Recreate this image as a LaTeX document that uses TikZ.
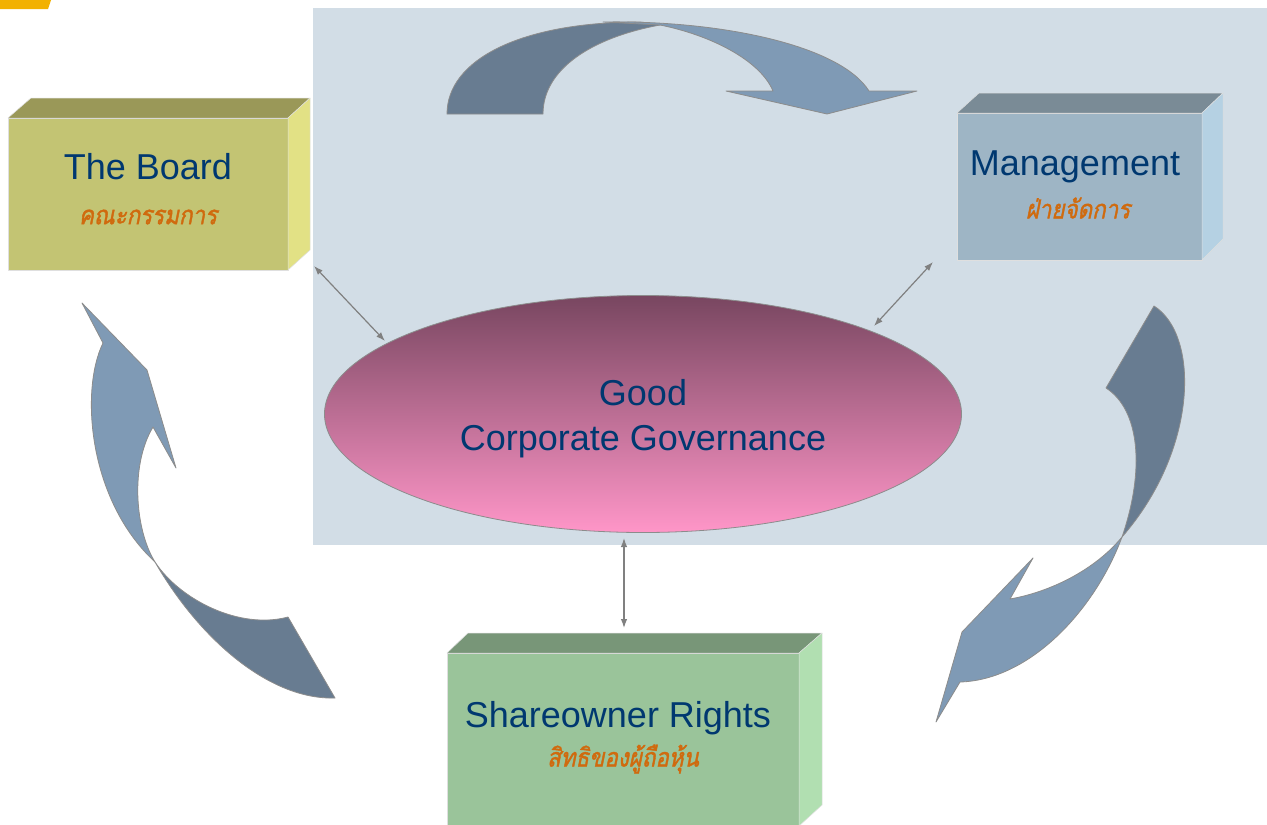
\documentclass[tikz,border=0pt]{standalone}
\usepackage{fontspec}
\setmainfont{Liberation Sans}
\newfontfamily\thaifont[Script=Thai,FakeSlant=0.2,FakeBold=1.5,FakeStretch=0.86]{Loma}
\usetikzlibrary{shapes.geometric,arrows.meta}
\definecolor{panelc}{RGB}{210,221,230}
\definecolor{tabc}{RGB}{242,177,0}
\definecolor{darkarr}{RGB}{104,124,145}
\definecolor{lightarr}{RGB}{127,154,181}
\definecolor{arredge}{RGB}{140,140,140}
\definecolor{entext}{RGB}{0,56,112}
\definecolor{thtext}{RGB}{208,106,14}
\definecolor{bfront}{RGB}{195,196,115}
\definecolor{btop}{RGB}{154,152,88}
\definecolor{bright}{RGB}{226,225,133}
\definecolor{mfront}{RGB}{158,181,197}
\definecolor{mtop}{RGB}{122,139,150}
\definecolor{mright}{RGB}{181,209,227}
\definecolor{sfront}{RGB}{154,196,154}
\definecolor{stop}{RGB}{120,150,120}
\definecolor{sright}{RGB}{177,223,177}
\definecolor{ellT}{RGB}{120,70,96}
\definecolor{ellB}{RGB}{255,150,200}
\definecolor{dblc}{RGB}{128,128,128}
\tikzset{
  en/.style={text=entext,font=\fontsize{36}{42}\selectfont,inner sep=0pt},
  th/.style={text=thtext,font=\thaifont\fontsize{26}{30}\selectfont,inner sep=0pt},
  face/.style={draw=white!75!gray,line width=0.5pt,line join=round},
  blockarrow/.style={draw=arredge,line width=0.8pt,line join=round},
  dbl/.style={draw=dblc,line width=1.2pt,{Latex[length=9pt,width=6.5pt]}-{Latex[length=9pt,width=6.5pt]}}
}
\begin{document}
\begin{tikzpicture}[x=1pt,y=-1pt]
\useasboundingbox (0,0) rectangle (1267,825);
\clip (0,0) rectangle (1267,825);
\fill[white] (0,0) rectangle (1267,825);
% orange tab
\fill[tabc] (0,0) -- (51,0) -- (48,9) -- (0,9) -- cycle;
% panel
\fill[panelc] (313,8) rectangle (1267,545);

% top curved arrow
\path[blockarrow,fill=darkarr] (447,114) .. controls (447,60) and (520,22) .. (640,22)
  -- (660,25) .. controls (590,38) and (543,70) .. (543,114) -- cycle;
\path[blockarrow,fill=lightarr] (603,22) .. controls (720,20) and (840,45) .. (869,91)
  -- (917,91) -- (827,114) -- (726,91) -- (773,91)
  .. controls (760,60) and (710,35) .. (660,25) -- cycle;

% right curved arrow
\path[blockarrow,fill=darkarr] (1154,306) .. controls (1200,335) and (1198,450) .. (1122,537)
  .. controls (1145,470) and (1140,410) .. (1106,388) -- cycle;
\path[blockarrow,fill=lightarr] (1122,537) .. controls (1095,610) and (1030,680) .. (960,682)
  -- (936,722) -- (962,632) -- (1033,558) -- (1010,599)
  .. controls (1050,592) and (1095,570) .. (1122,537) -- cycle;

% left curved arrow
\path[blockarrow,fill=lightarr] (82,303) -- (147,370) -- (176,468) -- (153,427)
  .. controls (130,465) and (135,530) .. (155,562)
  .. controls (88,500) and (80,390) .. (103,343) -- cycle;
\path[blockarrow,fill=darkarr] (155,562) .. controls (200,640) and (270,700) .. (335,698)
  -- (288,617) .. controls (240,630) and (180,600) .. (155,562) -- cycle;

% The Board box
\path[face,fill=bfront] (8,118) rectangle (288,270);
\path[face,fill=btop] (8,118) -- (31,98) -- (310,98) -- (288,118) -- cycle;
\path[face,fill=bright] (288,118) -- (310,98) -- (310,250) -- (288,270) -- cycle;
\node[en] (boardT) at (148,167) {The Board};
\node[th] (boardTh) at (148,217) {คณะกรรมการ};

% Management box
\path[face,fill=mfront] (957,113) rectangle (1202,260);
\path[face,fill=mtop] (957,113) -- (979,93) -- (1223,93) -- (1202,113) -- cycle;
\path[face,fill=mright] (1202,113) -- (1223,93) -- (1223,239) -- (1202,260) -- cycle;
\node[en] (mgmtT) at (1075,167) {Management};
\node[th] (mgmtTh) at (1078,208) {ฝ่ายจัดการ};

% Shareowner box
\path[face,fill=sfront] (447,653) rectangle (799,840);
\path[face,fill=stop] (447,653) -- (468,633) -- (822,633) -- (799,653) -- cycle;
\path[face,fill=sright] (799,653) -- (822,633) -- (822,805) -- (799,826) -- cycle;
\node[en] (shareT) at (618,718) {Shareowner Rights};
\node[th] (shareTh) at (623,759) {สิทธิของผู้ถือหุ้น};

% ellipse
\node[ellipse,minimum width=637pt,minimum height=237pt,inner sep=0pt,outer sep=0pt,
  draw=arredge,line width=0.8pt,top color=ellT,bottom color=ellB] (gcg) at (643,414) {};
\node[en,align=center,font=\fontsize{36}{45}\selectfont] (gcgT) at (643,419) {Good\\Corporate Governance};

% double arrows
\coordinate (bA) at (314,266);
\coordinate (bE) at (385,341);
\coordinate (mA) at (933,262);
\coordinate (mE) at (874,326);
\coordinate (sA) at (624,628);
\coordinate (sE) at (624,538);
\draw[dbl] (bA) -- (bE);
\draw[dbl] (mA) -- (mE);
\draw[dbl] (sA) -- (sE);
\end{tikzpicture}
\end{document}
